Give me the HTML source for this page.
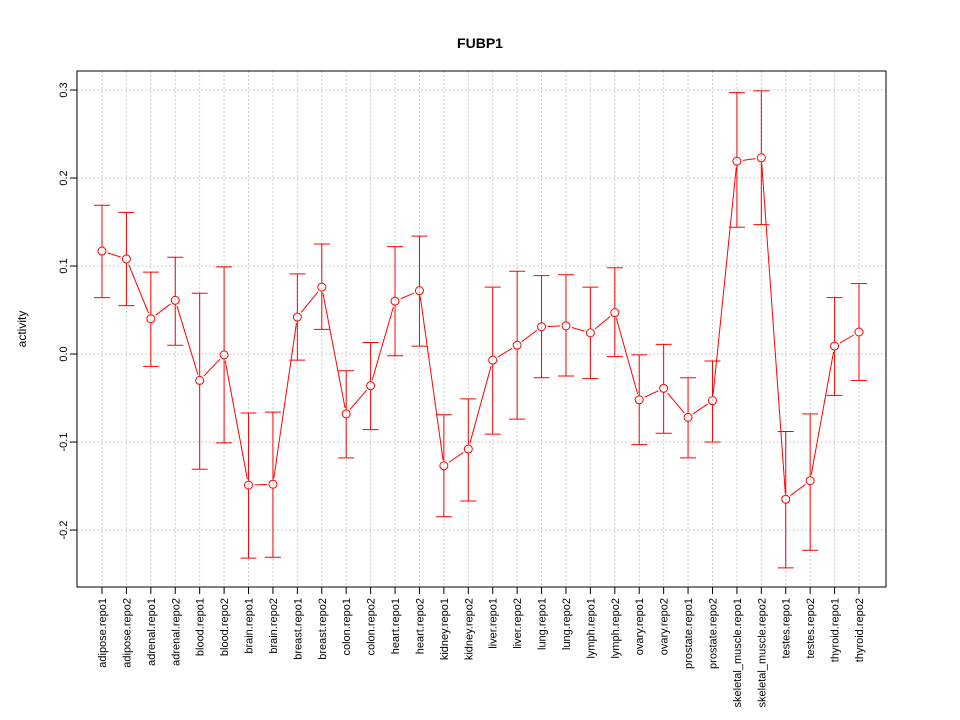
<!DOCTYPE html>
<html><head><meta charset="utf-8"><style>body{margin:0;background:#fff}svg{display:block}</style></head>
<body>
<svg id="chart" width="960" height="720" xmlns="http://www.w3.org/2000/svg" font-family="Liberation Sans, sans-serif">
<text x="480" y="48" text-anchor="middle" font-size="14" font-weight="bold">FUBP1</text>
<text transform="translate(26,329) rotate(-90)" text-anchor="middle" font-size="12">activity</text>
<g id="grid"></g><g id="axes"></g><g id="marks"></g>
<rect x="77" y="71" width="809" height="516" fill="none" stroke="#000"/>
</svg>
<script>
const categories=["adipose.repo1","adipose.repo2","adrenal.repo1","adrenal.repo2","blood.repo1","blood.repo2","brain.repo1","brain.repo2","breast.repo1","breast.repo2","colon.repo1","colon.repo2","heart.repo1","heart.repo2","kidney.repo1","kidney.repo2","liver.repo1","liver.repo2","lung.repo1","lung.repo2","lymph.repo1","lymph.repo2","ovary.repo1","ovary.repo2","prostate.repo1","prostate.repo2","skeletal_muscle.repo1","skeletal_muscle.repo2","testes.repo1","testes.repo2","thyroid.repo1","thyroid.repo2"];
const values=[0.117,0.108,0.040,0.061,-0.030,-0.001,-0.149,-0.148,0.042,0.076,-0.068,-0.036,0.060,0.072,-0.127,-0.108,-0.007,0.010,0.031,0.032,0.024,0.047,-0.052,-0.039,-0.072,-0.053,0.219,0.223,-0.165,-0.144,0.009,0.025];
const upper=[0.169,0.161,0.093,0.110,0.069,0.099,-0.067,-0.066,0.091,0.125,-0.019,0.013,0.122,0.134,-0.069,-0.051,0.076,0.094,0.089,0.090,0.076,0.098,-0.001,0.011,-0.027,-0.008,0.297,0.299,-0.088,-0.068,0.064,0.080];
const lower=[0.064,0.055,-0.014,0.010,-0.131,-0.101,-0.232,-0.231,-0.007,0.028,-0.118,-0.086,-0.002,0.009,-0.185,-0.167,-0.091,-0.074,-0.027,-0.025,-0.028,-0.003,-0.103,-0.090,-0.118,-0.100,0.144,0.147,-0.243,-0.223,-0.047,-0.030];
const yTicks=[-0.2,-0.1,0.0,0.1,0.2,0.3];
const yTickLabels=["-0.2","-0.1","0.0","0.1","0.2","0.3"];
const NS="http://www.w3.org/2000/svg";
const xs=i=>102+i*(859-102)/(categories.length-1);
const ys=v=>354-v*880;
function mk(tag,attrs,parent){const e=document.createElementNS(NS,tag);for(const k in attrs)e.setAttribute(k,attrs[k]);document.getElementById(parent).appendChild(e);return e;}
yTicks.forEach((t,i)=>{
 const y=ys(t);
 const g=mk('line',{x1:77,x2:886,y1:y,y2:y,stroke:'#ccc','stroke-dasharray':'2,2'},'grid');
 
 
 const tk=mk('line',{x1:70,x2:77,y1:y,y2:y,stroke:'#000'},'axes');
 
 
 const tx=mk('text',{transform:`translate(67,${y}) rotate(-90)`,'text-anchor':'middle','font-size':'11'},'axes');
 tx.textContent=yTickLabels[i];
 
 
});
categories.forEach((c,i)=>{
 const x=xs(i);
 const g=mk('line',{x1:x,x2:x,y1:71,y2:587,stroke:'#ccc','stroke-dasharray':'2,2'},'grid');
 
 
 const tk=mk('line',{x1:x,x2:x,y1:587,y2:594,stroke:'#000'},'axes');
 
 
 const tx=mk('text',{transform:`translate(${x+4},598) rotate(-90)`,'text-anchor':'end','font-size':'11'},'axes');
 tx.textContent=c;
 
 
});
const R=4;
values.forEach((v,i)=>{
 const x=xs(i),y=ys(v),yu=ys(upper[i]),yl=ys(lower[i]);
 const e1=mk('line',{x1:x,x2:x,y1:yu,y2:y-R,stroke:'#f00'},'marks');
 
 
 const e2=mk('line',{x1:x,x2:x,y1:y+R,y2:yl,stroke:'#f00'},'marks');
 
 
 const c1=mk('line',{x1:x-8,x2:x+8,y1:yu,y2:yu,stroke:'#f00'},'marks');
 
 
 const c2=mk('line',{x1:x-8,x2:x+8,y1:yl,y2:yl,stroke:'#f00'},'marks');
 
 
 if(i<values.length-1){
  const x2=xs(i+1),y2=ys(values[i+1]);
  const d=Math.hypot(x2-x,y2-y),ux=(x2-x)/d,uy=(y2-y)/d,g=R+2;
  if(d>2*g){
   const s=mk('line',{x1:x+ux*g,y1:y+uy*g,x2:x2-ux*g,y2:y2-uy*g,stroke:'#f00'},'marks');
   
   
  }
 }
 const p=mk('circle',{cx:x,cy:y,r:R,fill:'none',stroke:'#f00'},'marks');
 
 
});
</script>
</body></html>
